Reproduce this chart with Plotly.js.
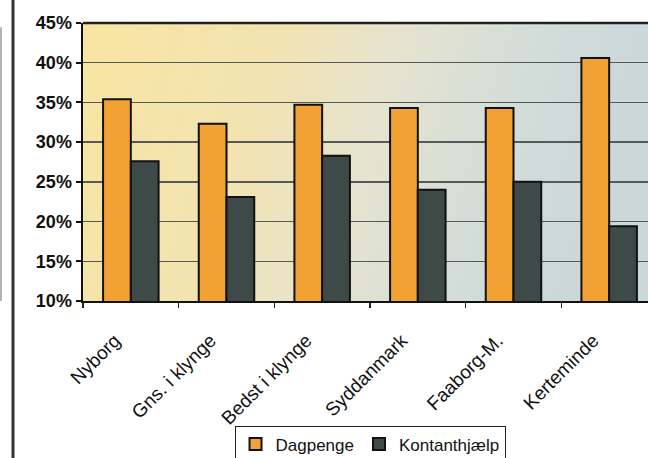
<!DOCTYPE html>
<html>
<head>
<meta charset="utf-8">
<script src="https://cdn.plot.ly/plotly-3.0.1.min.js"></script>
<style>html,body{margin:0;padding:0;background:#fff;overflow:hidden;}</style>
</head>
<body>
<div id="chart" style="width:648px;height:458px;"></div>
<script>
const categories = ["Nyborg", "Gns. i klynge", "Bedst i klynge", "Syddanmark", "Faaborg-M.", "Kerteminde"];
const dagpenge = [35.4, 32.3, 34.7, 34.3, 34.3, 40.6];
const kontanthjaelp = [27.6, 23.1, 28.3, 24.0, 25.0, 19.4];
const seriesNames = ["Dagpenge", "Kontanthjælp"];
const yTicks = [10, 15, 20, 25, 30, 35, 40, 45];

const grad = '<svg xmlns="http://www.w3.org/2000/svg" width="100" height="100" preserveAspectRatio="none">' +
  '<defs><linearGradient id="g" x1="0" y1="0" x2="1" y2="0.15">' +
  '<stop offset="0" stop-color="#f8e5a2"/><stop offset="0.35" stop-color="#f2e3b2"/>' +
  '<stop offset="0.55" stop-color="#e6e4cf"/><stop offset="0.8" stop-color="#d2dcd9"/>' +
  '<stop offset="1" stop-color="#cbd8d8"/></linearGradient></defs>' +
  '<rect width="100" height="100" fill="url(#g)"/></svg>';
const gradUrl = 'data:image/svg+xml;base64,' + btoa(grad);

const font = "Liberation Sans, Arial, sans-serif";

const traces = [
  {type: 'bar', name: seriesNames[0], x: categories, y: dagpenge,
   marker: {color: '#f1a233', line: {color: '#111', width: 2}}},
  {type: 'bar', name: seriesNames[1], x: categories, y: kontanthjaelp,
   marker: {color: '#3e4a48', line: {color: '#111', width: 2}}}
];

const layout = {
  width: 648, height: 458,
  margin: {l: 83, r: 0, t: 23, b: 157, autoexpand: false},
  paper_bgcolor: '#ffffff',
  plot_bgcolor: '#f0e6c0',
  barmode: 'group', bargap: 0.42, bargroupgap: 0,
  showlegend: true,
  legend: {orientation: 'h', x: 0.508, xanchor: 'center', y: -0.448, yanchor: 'top',
           bgcolor: '#ffffff', bordercolor: '#222', borderwidth: 1,
           font: {family: font, size: 17, color: '#111'}, traceorder: 'normal',
           itemwidth: 30, tracegroupgap: 0},
  xaxis: {type: 'category', range: [-0.5, 5.406], tickson: 'boundaries',
          ticks: 'outside', ticklen: 5, tickwidth: 1.5, tickcolor: '#222',
          showline: true, linecolor: '#111', linewidth: 2, showgrid: false,
          tickangle: -45, ticklabelstandoff: 19, ticklabelshift: -16,
          tickfont: {family: font, size: 19, color: '#111'}, fixedrange: true, automargin: false},
  yaxis: {range: [10, 45], tickvals: yTicks, ticktext: yTicks.map(v => v + '%'),
          ticks: 'outside', ticklen: 5, tickwidth: 2, tickcolor: '#111',
          showline: true, linecolor: '#111', linewidth: 2.5,
          showgrid: true, gridcolor: '#55595a', gridwidth: 1.5, zeroline: false,
          tickfont: {family: font, size: 18, color: '#111', weight: 'bold'}, fixedrange: true, automargin: false},
  images: [{source: gradUrl, xref: 'paper', yref: 'paper', x: 0, y: 1, sizex: 1, sizey: 1,
            xanchor: 'left', yanchor: 'top', sizing: 'stretch', layer: 'below'}],
  shapes: [
    {type: 'line', xref: 'paper', yref: 'paper', x0: 0, x1: 1, y0: 1, y1: 1,
     line: {color: '#222', width: 2.5}},
    {type: 'line', xref: 'paper', yref: 'paper', x0: -70/565, x1: -70/565, y0: -157/278, y1: 23/278 + 1,
     line: {color: '#333', width: 3}},
    {type: 'line', xref: 'paper', yref: 'paper', x0: -82/565, x1: -82/565, y0: 0, y1: 0.985,
     line: {color: '#9a9a9a', width: 1.5}}
  ]
};

Plotly.newPlot('chart', traces, layout, {displayModeBar: false, staticPlot: true});
</script>
</body>
</html>
